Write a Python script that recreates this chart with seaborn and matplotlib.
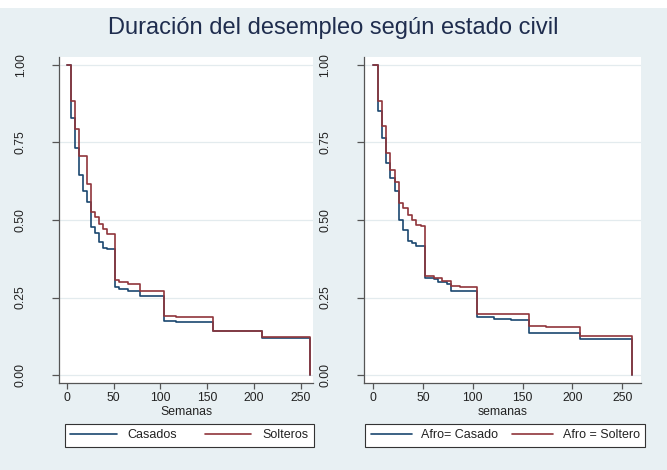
import matplotlib
matplotlib.use("Agg")
import matplotlib.pyplot as plt
import seaborn as sns
import pandas as pd
from matplotlib.lines import Line2D
from matplotlib.patches import Rectangle

# ---------------- data (weeks, survival) ----------------
casados_t = [0, 4.3, 8.7, 13, 17.3, 21.7, 26, 30.3, 34.7, 39, 43.3, 52, 56.3, 65, 78, 104, 117, 156, 208, 260]
casados_s = [1.0, 0.829, 0.732, 0.646, 0.595, 0.558, 0.476, 0.457, 0.430, 0.410, 0.405, 0.283, 0.277, 0.272, 0.255, 0.175, 0.170, 0.141, 0.120, 0.0]

solteros_t = [0, 4.3, 8.7, 13, 21.7, 26, 30.3, 34.7, 39, 43.3, 52, 56.3, 65, 78, 104, 117, 156, 208, 260]
solteros_s = [1.0, 0.883, 0.795, 0.705, 0.616, 0.525, 0.509, 0.487, 0.471, 0.455, 0.306, 0.301, 0.294, 0.272, 0.191, 0.188, 0.142, 0.123, 0.0]

afro_casado_t = [0, 4.3, 8.7, 13, 17.3, 21.7, 26, 30.3, 34.7, 39, 43.3, 52, 60.7, 65, 73.7, 78, 104, 121.3, 138.7, 156, 208, 260]
afro_casado_s = [1.0, 0.853, 0.765, 0.684, 0.635, 0.593, 0.501, 0.467, 0.432, 0.427, 0.417, 0.312, 0.309, 0.301, 0.293, 0.272, 0.186, 0.181, 0.177, 0.134, 0.116, 0.0]

afro_soltero_t = [0, 4.3, 8.7, 13, 17.3, 21.7, 26, 30.3, 34.7, 39, 43.3, 47.7, 52, 60.7, 69.3, 78, 86.7, 104, 156, 173.3, 208, 260]
afro_soltero_s = [1.0, 0.885, 0.802, 0.716, 0.662, 0.623, 0.556, 0.540, 0.516, 0.500, 0.484, 0.481, 0.319, 0.314, 0.304, 0.287, 0.283, 0.198, 0.157, 0.155, 0.126, 0.0]

left_labels = ["Casados", "Solteros"]
right_labels = ["Afro= Casado", "Afro = Soltero"]
yticks = [0, 0.25, 0.5, 0.75, 1.0]
yticklabels = ["0.00", "0.25", "0.50", "0.75", "1.00"]
xticks = [0, 50, 100, 150, 200, 250]

title = "Duración del desempleo según estado civil"

# ---------------- style ----------------
sns.set_theme(style="white")
plt.rcParams["font.family"] = ["Liberation Sans", "DejaVu Sans"]

BG = "#e8f0f3"
NAVY = "#1a476f"
MAROON = "#90353b"
AXC = "#555555"
TXT = "#222222"

fig = plt.figure(figsize=(6.67, 4.70), dpi=100, facecolor=BG)
fig.patches.append(Rectangle((0, 1 - 8 / 470), 1, 8 / 470, transform=fig.transFigure,
                             facecolor="white", edgecolor="none", zorder=0))

ax1 = fig.add_axes([59.3 / 667, 1 - 382.7 / 470, (313 - 59.3) / 667, (382.7 - 57.3) / 470])
ax2 = fig.add_axes([364 / 667, 1 - 382.7 / 470, (641 - 364) / 667, (382.7 - 57.3) / 470])


def make_df(t1, s1, l1, t2, s2, l2):
    return pd.concat([
        pd.DataFrame({"t": t1, "s": s1, "g": l1}),
        pd.DataFrame({"t": t2, "s": s2, "g": l2}),
    ], ignore_index=True)


df1 = make_df(casados_t, casados_s, left_labels[0], solteros_t, solteros_s, left_labels[1])
df2 = make_df(afro_casado_t, afro_casado_s, right_labels[0], afro_soltero_t, afro_soltero_s, right_labels[1])

panels = [
    (ax1, df1, left_labels, "Semanas", (-7.9, 262.9), 189.5,
     dict(handlelength=3.7, handletextpad=0.9, columnspacing=2.2)),
    (ax2, df2, right_labels, "semanas", (-9.3, 268.8), 505.3,
     dict(handlelength=3.3, handletextpad=0.75, columnspacing=1.1)),
]

for ax, df, labels, xlabel, xlim, legx, legkw in panels:
    sns.lineplot(data=df, x="t", y="s", hue="g", hue_order=labels,
                 palette=[NAVY, MAROON], drawstyle="steps-post", estimator=None,
                 linewidth=1.2, legend=False, ax=ax)
    ax.set_facecolor("white")
    ax.set_xlim(*xlim)
    ax.set_ylim(-0.0248, 1.0248)
    ax.set_xticks(xticks)
    ax.set_yticks(yticks)
    ax.set_yticklabels(yticklabels)
    for lab in ax.get_yticklabels():
        lab.set_rotation(90)
        lab.set_va("center")
    ax.grid(axis="y", color="#e3ebee", linewidth=0.9)
    ax.grid(axis="x", visible=False)
    ax.set_axisbelow(True)
    for sp in ["top", "right"]:
        ax.spines[sp].set_visible(False)
    for sp in ["left", "bottom"]:
        ax.spines[sp].set_color(AXC)
        ax.spines[sp].set_linewidth(0.9)
    ax.tick_params(axis="x", direction="out", length=4, width=0.9, color=AXC,
                   pad=3, labelsize=8.8, labelcolor=TXT, bottom=True)
    ax.tick_params(axis="y", direction="out", length=5, width=0.9, color=AXC,
                   pad=18.5, labelsize=8.8, labelcolor=TXT, left=True)
    ax.set_xlabel(xlabel, fontsize=8.8, color=TXT, labelpad=1)
    ax.set_ylabel("")

    handles = [Line2D([], [], color=NAVY, lw=1.2), Line2D([], [], color=MAROON, lw=1.2)]
    leg = ax.legend(handles, labels, loc="center",
                    bbox_to_anchor=(legx / 667, 1 - 435.5 / 470),
                    bbox_transform=fig.transFigure, ncol=2, frameon=True,
                    fancybox=False, edgecolor="#333333", facecolor="white",
                    framealpha=1, fontsize=9, borderpad=0.45, **legkw)
    leg.get_frame().set_linewidth(0.8)
    for tx in leg.get_texts():
        tx.set_color(TXT)

fig.text(0.5, 1 - 34 / 470, title, ha="center", va="baseline",
         fontsize=17, color="#1f2d4e")

fig.savefig("out.png", dpi=100, facecolor=BG)
